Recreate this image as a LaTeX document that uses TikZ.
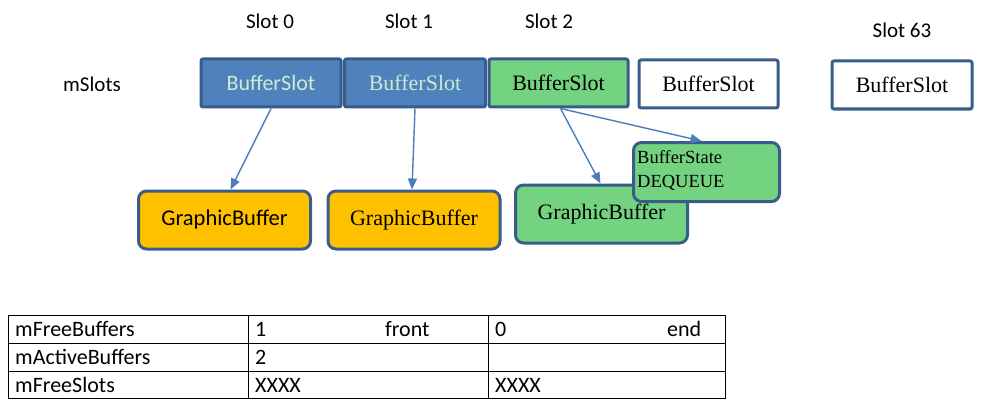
\documentclass[tikz,border=0pt]{standalone}
\usepackage{fontspec}
\setmainfont{Liberation Serif}
\newfontfamily\calfam{Carlito}
\usetikzlibrary{arrows.meta,calc}
\definecolor{bfill}{RGB}{79,129,189}
\definecolor{bdraw}{RGB}{56,93,138}
\definecolor{ltext}{RGB}{200,238,206}
\definecolor{gfill}{RGB}{115,211,128}
\definecolor{ofill}{RGB}{255,192,0}
\definecolor{arr}{RGB}{74,126,187}
\tikzset{
  slotbox/.style={draw=bdraw,line width=3pt,rounded corners=2pt,minimum width=140pt,minimum height=48pt,inner sep=0pt,font=\rmfamily\fontsize{22}{24}\selectfont},
  gbbox/.style={draw=bdraw,line width=3pt,rounded corners=8pt,minimum width=172pt,minimum height=58pt,inner sep=0pt,font=\rmfamily\fontsize{22}{24}\selectfont},
  lbl/.style={inner sep=0pt,font=\calfam\fontsize{21}{24}\selectfont},
  conn/.style={draw=arr,line width=1.4pt,-{Triangle[length=11pt,width=9pt]}},
  tline/.style={draw=black,line width=0.9pt},
  tcell/.style={inner sep=0pt,anchor=west,font=\calfam\fontsize{22}{24}\selectfont}
}
\begin{document}
\begin{tikzpicture}[x=1pt,y=-1pt]
\useasboundingbox (0,0) rectangle (986,404);
% labels
\node[lbl] (s0) at (270,21) {Slot 0};
\node[lbl] (s1) at (409,21) {Slot 1};
\node[lbl] (s2) at (549,21) {Slot 2};
\node[lbl] (s63) at (902,30) {Slot 63};
\node[lbl] (ms) at (92,84) {mSlots};
% slots
\node[slotbox,fill=bfill,text=ltext,font=\calfam\fontsize{22}{24}\selectfont] (b0) at (271,83) {BufferSlot};
\node[slotbox,fill=bfill,text=ltext,minimum width=141pt] (b1) at (415,83) {BufferSlot};
\node[slotbox,fill=gfill,minimum width=139pt] (b2) at (558.5,83) {BufferSlot};
\node[slotbox,fill=white,minimum width=139pt] (b3) at (708.5,84) {BufferSlot};
\node[slotbox,fill=white,minimum width=140pt] (b4) at (902,85) {BufferSlot};
% graphic buffers
\node[gbbox,fill=ofill,font=\calfam\fontsize{22.5}{24}\selectfont] (ga) at (224.5,220) {GraphicBuffer};
\node[gbbox,fill=ofill] (gb) at (414,220) {GraphicBuffer};
\node[gbbox,fill=gfill] (gc) at (601.5,214) {GraphicBuffer};
\node[draw=bdraw,line width=3pt,rounded corners=8pt,fill=gfill,minimum width=146pt,minimum height=59pt,inner sep=0pt,anchor=north west] (bs) at (632,141) {};
\node[inner sep=0pt,anchor=north west,align=left,font=\rmfamily\fontsize{18.5}{24}\selectfont] (bst) at (637,150) {BufferState\\DEQUEUE};
% connectors
\draw[conn] (b0.south) -- ([xshift=6pt]ga.north);
\draw[conn] (b1.south) -- ([xshift=-2pt]gb.north);
\draw[conn] ([xshift=2pt]b2.south) -- ([xshift=-1pt]gc.north);
\draw[conn] ([xshift=2pt]b2.south) -- ([xshift=-5pt]bs.north);
% table
\coordinate (t00) at (8,315);
\coordinate (t11) at (725,398);
\draw[tline] (t00) rectangle (t11);
\draw[tline] (8,343) -- (725,343);
\draw[tline] (8,371) -- (725,371);
\draw[tline] (248,315) -- (248,398);
\draw[tline] (488,315) -- (488,398);
\node[tcell] (c11) at (15,329) {mFreeBuffers};
\node[tcell] (c12) at (255,329) {1};
\node[tcell] (c12b) at (385,329) {front};
\node[tcell] (c13) at (495,329) {0};
\node[tcell] (c13b) at (667,329) {end};
\node[tcell] (c21) at (15,357) {mActiveBuffers};
\node[tcell] (c22) at (255,357) {2};
\node[tcell] (c31) at (15,385) {mFreeSlots};
\node[tcell] (c32) at (255,385) {XXXX};
\node[tcell] (c33) at (495,385) {XXXX};
\end{tikzpicture}
\end{document}
